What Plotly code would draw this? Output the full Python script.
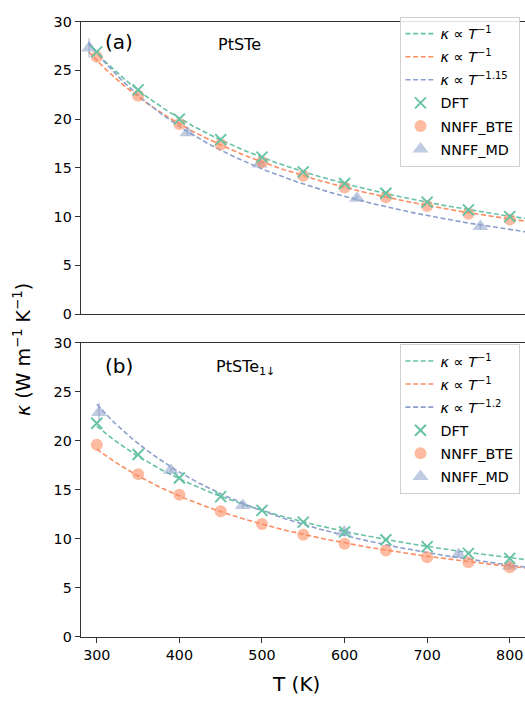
import numpy as np
import plotly.graph_objects as go

# ---------------- data ----------------
# panel (a) PtSTe
T_a = [300, 350, 400, 450, 500, 550, 600, 650, 700, 750, 800]
dft_a = [26.9, 23.0, 20.0, 17.9, 16.1, 14.6, 13.4, 12.4, 11.5, 10.7, 10.0]
bte_a = [26.4, 22.4, 19.5, 17.4, 15.6, 14.2, 13.0, 12.0, 11.1, 10.3, 9.7]
T_md_a = [290.7, 409.8, 497, 615, 764.5]
md_a = [27.3, 18.6, 15.4, 11.9, 9.0]
md_err_a = [1.0, 0.3, 0.3, 0.3, 0.3]
n_a = [1.0, 1.0, 1.15]

# panel (b) PtSTe_1↓
T_b = [300, 350, 400, 450, 500, 550, 600, 650, 700, 750, 800]
dft_b = [21.8, 18.6, 16.2, 14.3, 12.9, 11.7, 10.7, 9.9, 9.2, 8.5, 8.0]
bte_b = [19.6, 16.6, 14.5, 12.8, 11.5, 10.4, 9.5, 8.8, 8.1, 7.6, 7.1]
T_md_b = [302.8, 389.6, 476.8, 599.5, 738, 800]
md_b = [22.9, 17.0, 13.4, 10.7, 8.4, 7.2]
md_err_b = [1.0, 0.3, 0.3, 0.3, 0.3, 0.3]
n_b = [1.0, 1.0, 1.2]

x_ticks = [300, 400, 500, 600, 700, 800]
y_ticks = [0, 5, 10, 15, 20, 25, 30]

GREEN = "#66c2a5"
ORANGE = "#fc8d62"
BLUE = "#8da0cb"
FONT = "DejaVu Sans"

W, H = 525, 704


def fitA(T, k, n):
    T = np.asarray(T, float)
    k = np.asarray(k, float)
    return float(np.exp(np.mean(np.log(k) + n * np.log(T))))


def sup(n):
    s = ("%g" % n).replace("-", "−")
    return "<i>κ</i> ∝ <i>T</i><sup>−" + s + "</sup>"


fig = go.Figure()

MK_X = dict(symbol="x-thin", size=11, color=GREEN, line=dict(color=GREEN, width=1.9))
MK_O = dict(symbol="circle", size=12, color=ORANGE, opacity=0.6)
MK_T = dict(symbol="triangle-up", size=14, color=BLUE, opacity=0.55)


def add_panel(T, dft, bte, Tmd, md, mderr, ns, xa, ya, leg, tstart):
    grid = np.linspace(tstart, 825, 200)
    sets = [(T, dft, ns[0], GREEN), (T, bte, ns[1], ORANGE), (Tmd, md, ns[2], BLUE)]
    for i, (tt, kk, n, c) in enumerate(sets):
        A = fitA(tt, kk, n)
        fig.add_trace(go.Scatter(
            x=grid, y=A * grid ** (-n), mode="lines", xaxis=xa, yaxis=ya,
            line=dict(color=c, width=1.6, dash="5px,2.6px"),
            name=sup(n), legend=leg, legendgroup=leg + str(i)))
    fig.add_trace(go.Scatter(
        x=Tmd, y=md, mode="markers", xaxis=xa, yaxis=ya, marker=MK_T,
        error_y=dict(type="data", array=mderr, color="rgba(141,160,203,0.6)",
                     thickness=1.5, width=0),
        name="NNFF_MD", legend=leg, legendgroup=leg + "5", showlegend=False))
    fig.add_trace(go.Scatter(
        x=T, y=bte, mode="markers", xaxis=xa, yaxis=ya, marker=MK_O,
        name="NNFF_BTE", legend=leg, legendgroup=leg + "4", showlegend=False))
    fig.add_trace(go.Scatter(
        x=T, y=dft, mode="markers", xaxis=xa, yaxis=ya, marker=MK_X,
        name="DFT", legend=leg, legendgroup=leg + "3", showlegend=False))
    # legend proxies in the right order
    for nm, mk, g in [("DFT", MK_X, "3"), ("NNFF_BTE", MK_O, "4"), ("NNFF_MD", MK_T, "5")]:
        fig.add_trace(go.Scatter(
            x=[None], y=[None], mode="markers", xaxis=xa, yaxis=ya, marker=mk,
            name=nm, legend=leg, legendgroup=leg + g))


add_panel(T_a, dft_a, bte_a, T_md_a, md_a, md_err_a, n_a, "x", "y", "legend", 290)
add_panel(T_b, dft_b, bte_b, T_md_b, md_b, md_err_b, n_b, "x2", "y2", "legend2", 300)

x0 = 80.7 / W
dom_a = [1 - 313.3 / H, 1 - 14 / H]
dom_b = [1 - 643.3 / H, 1 - 342.7 / H]
xr = [280.5, 818.5]

axis_common = dict(showgrid=False, zeroline=False, showline=True, linecolor="#333",
                   linewidth=1.2, tickfont=dict(family=FONT, size=14.3, color="black"),
                   tickcolor="#333", ticklen=5, tickwidth=1.1)

leg_common = dict(bgcolor="rgba(255,255,255,0.85)", bordercolor="#d0d0d0", borderwidth=1,
                  font=dict(family=FONT, size=14.3, color="black"),
                  xanchor="right", yanchor="top", itemwidth=30,
                  traceorder="grouped", tracegroupgap=1.5)

fig.update_layout(
    width=W, height=H, margin=dict(l=0, r=0, t=0, b=0), autosize=False,
    paper_bgcolor="white", plot_bgcolor="white", showlegend=True,
    xaxis=dict(domain=[x0, 1], range=xr, anchor="y", mirror=True, ticks="",
               showticklabels=False, **axis_common),
    yaxis=dict(domain=dom_a, range=[0, 30], anchor="x", tickvals=y_ticks, ticks="outside",
               **axis_common),
    xaxis2=dict(domain=[x0, 1], range=xr, anchor="y2", mirror=True, tickvals=x_ticks,
                ticks="outside", **axis_common),
    yaxis2=dict(domain=dom_b, range=[0, 30], anchor="x2", tickvals=y_ticks, ticks="outside",
                **axis_common),
    legend=dict(x=519.5 / W, y=1 - 9 / H, **leg_common),
    legend2=dict(x=519.5 / W, y=1 - 344 / H, **leg_common),
)

ann = [
    dict(text="(a)", x=119 / W, y=1 - 35 / H, font=dict(size=20)),
    dict(text="PtSTe", x=239 / W, y=1 - 37 / H, font=dict(size=16)),
    dict(text="(b)", x=119 / W, y=1 - 366 / H, font=dict(size=20)),
    dict(text="PtSTe<sub>1↓</sub>", x=245 / W, y=1 - 368 / H, font=dict(size=16)),
    dict(text="T (K)", x=296 / W, y=1 - 692 / H, font=dict(size=20)),
    dict(text="<i>κ</i> (W m<sup>−1</sup> K<sup>−1</sup>)", x=22 / W, y=1 - 350 / H,
         font=dict(size=19), textangle=-90),
]
for a in ann:
    f = a.pop("font")
    f.update(family=FONT, color="black")
    fig.add_annotation(xref="paper", yref="paper", showarrow=False,
                       xanchor="center", yanchor="middle", font=f, **a)

fig.write_html("out.html", config={"responsive": False, "displayModeBar": False},
               post_script="document.body.style.margin='0px';"
                           "document.body.style.overflow='hidden';")
